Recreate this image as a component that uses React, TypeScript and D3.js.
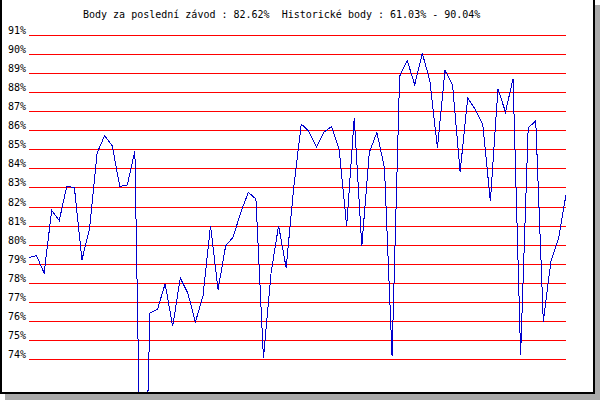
import React from "react";
import * as d3 from "d3";

// body za jednotlivé závody (%)
const points = [
  79.33, 79.42, 78.51, 81.8, 81.27, 83.06, 83.0, 79.21, 80.8, 84.81,
  85.72, 85.19, 83.06, 83.13, 84.93, 61.03, 76.41, 76.62, 77.95, 75.71,
  78.25, 77.46, 75.94, 77.3, 81.0, 77.64, 79.94, 80.4, 81.7, 82.74,
  82.4, 74.05, 78.5, 81.0, 78.78, 83.0, 86.33, 85.94, 85.12, 85.9,
  86.2, 85.02, 80.96, 86.64, 79.91, 84.85, 85.89, 84.02, 74.17, 88.83,
  89.67, 88.39, 90.04, 88.6, 85.07, 89.14, 88.39, 83.81, 87.69, 87.1,
  86.3, 82.27, 88.17, 86.96, 88.71, 74.23, 86.12, 86.5, 75.97, 79.1,
  80.3, 82.62,
];

const gridValues = [91, 90, 89, 88, 87, 86, 85, 84, 83, 82, 81, 80, 79, 78, 77, 76, 75, 74];
const gridLabels = gridValues.map((v) => `${v}%`);

const title = "Body za poslední závod : 82.62%  Historické body : 61.03% - 90.04%";

const W = 600;
const H = 400;

const App = () => {
  const x = d3.scaleLinear().domain([0, points.length - 1]).range([29, 566]);
  const y = d3.scaleLinear().domain([74, 91]).range([359, 35]);

  const line = d3
    .line<number>()
    .x((d, i) => x(i))
    .y((d) => y(d));

  const font = "'DejaVu Sans Mono', monospace";

  return (
    <svg
      width={W}
      height={H}
      style={{ position: "absolute", left: 0, top: 0, background: "#fff" }}
    >
      <defs>
        <clipPath id="plot">
          <rect x={0} y={0} width={593} height={392} />
        </clipPath>
      </defs>
      <rect x={0} y={0} width={W} height={H} fill="#fff" />

      <text
        x={83}
        y={18}
        fontFamily={font}
        fontSize={10}
        fill="#000"
        style={{ whiteSpace: "pre" }}
      >
        {title}
      </text>

      {gridValues.map((v, i) => {
        const gy = Math.round(y(v)) + 0.5;
        return (
          <g key={v}>
            <line
              x1={29}
              x2={566}
              y1={gy}
              y2={gy}
              stroke="#ff0000"
              strokeWidth={1}
              shapeRendering="crispEdges"
            />
            <text x={8} y={gy - 2} fontFamily={font} fontSize={10} fill="#000">
              {gridLabels[i]}
            </text>
          </g>
        );
      })}

      <path
        d={line(points) || ""}
        fill="none"
        stroke="#0000cc"
        strokeWidth={1}
        shapeRendering="crispEdges"
        clipPath="url(#plot)"
      />

      {/* rámeček se stínem */}
      <rect x={595} y={5} width={5} height={395} fill="#aaaaaa" />
      <rect x={5} y={394} width={595} height={6} fill="#aaaaaa" />
      <rect x={0} y={0} width={2} height={394} fill="#000" />
      <rect x={0} y={392} width={595} height={2} fill="#000" />
      <rect x={593} y={0} width={2} height={394} fill="#000" />
    </svg>
  );
};

export default App;
